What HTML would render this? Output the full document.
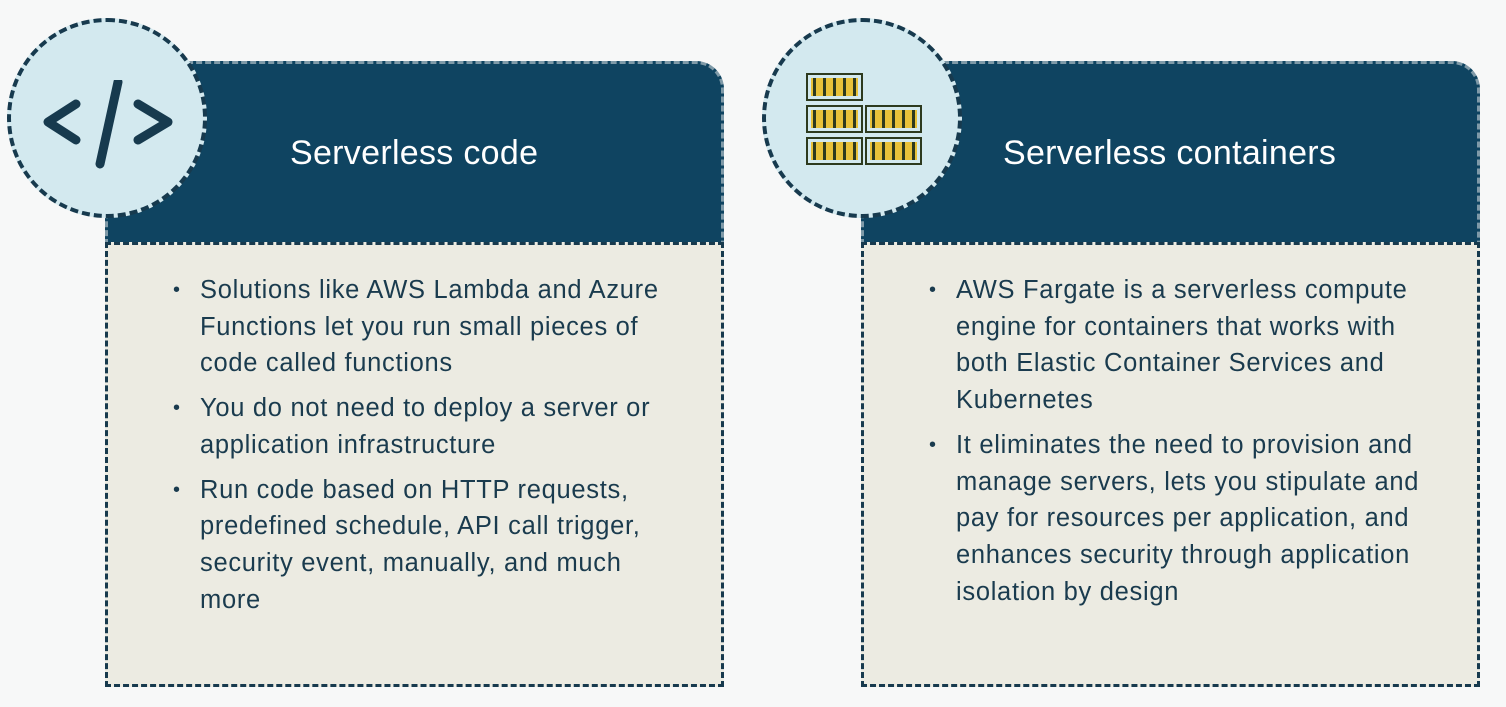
<!DOCTYPE html>
<html><head><style>
body{margin:0;width:1506px;height:707px;background:#f7f8f8;position:relative;overflow:hidden;font-family:"Liberation Sans","DejaVu Sans",sans-serif}
.hd{position:absolute;background:#0f4461;border:3px dashed #7f9aa8;border-top-right-radius:28px;box-sizing:border-box}
.bd{position:absolute;background:#ecebe2;border:3px dashed #173a4e;box-sizing:border-box}
.circ{position:absolute;width:200px;height:200px;border-radius:50%;background:#d3e9ef;border:4px dashed #173a4e;box-sizing:border-box}
.t{position:absolute;color:#fff;font-size:34px;top:134px;letter-spacing:0.3px}
ul{position:absolute;margin:0;padding:0 0 0 25px;color:#1a3b4e;font-size:25.5px;line-height:36.7px;list-style:none;white-space:nowrap;letter-spacing:0.7px}
li{position:relative;margin-bottom:8px}
li:before{content:"•";position:absolute;left:-27px;font-size:20px}
.c{position:absolute;background:#e8c23a;border:2px solid #2d3a1e;box-sizing:border-box;width:57px;height:28px;
background-image:repeating-linear-gradient(90deg,transparent 0 5px,#2d3a1e 5px 8px,transparent 8px 10px);background-clip:content-box;padding:3px 3px}
</style></head><body>
<div class="hd" style="left:105px;top:61px;width:619px;height:184px"></div>
<div class="bd" style="left:105px;top:242px;width:619px;height:445px"></div>
<div class="circ" style="left:7px;top:18px"></div>
<svg style="position:absolute;left:40px;top:80px" width="140" height="90"><g fill="none" stroke="#173a4e" stroke-width="9" stroke-linecap="round" stroke-linejoin="round"><polyline points="36,24 8,42 36,60"/><line x1="78" y1="2" x2="60" y2="84"/><polyline points="98,24 128,42 98,60"/></g></svg>
<div class="t" style="left:290px">Serverless code</div>
<ul style="left:175px;top:272px">
<li>Solutions like AWS Lambda and Azure<br>Functions let you run small pieces of<br>code called functions</li>
<li>You do not need to deploy a server or<br>application infrastructure</li>
<li>Run code based on HTTP requests,<br>predefined schedule, API call trigger,<br>security event, manually, and much<br>more</li>
</ul>

<div class="hd" style="left:861px;top:61px;width:619px;height:184px"></div>
<div class="bd" style="left:861px;top:242px;width:619px;height:445px"></div>
<div class="circ" style="left:762px;top:18px"></div>
<div class="c" style="left:806px;top:73px"></div>
<div class="c" style="left:806px;top:105px"></div>
<div class="c" style="left:865px;top:105px"></div>
<div class="c" style="left:806px;top:137px"></div>
<div class="c" style="left:865px;top:137px"></div>
<div class="t" style="left:1003px">Serverless containers</div>
<ul style="left:931px;top:272px">
<li>AWS Fargate is a serverless compute<br>engine for containers that works with<br>both Elastic Container Services and<br>Kubernetes</li>
<li>It eliminates the need to provision and<br>manage servers, lets you stipulate and<br>pay for resources per application, and<br>enhances security through application<br>isolation by design</li>
</ul>
</body></html>
